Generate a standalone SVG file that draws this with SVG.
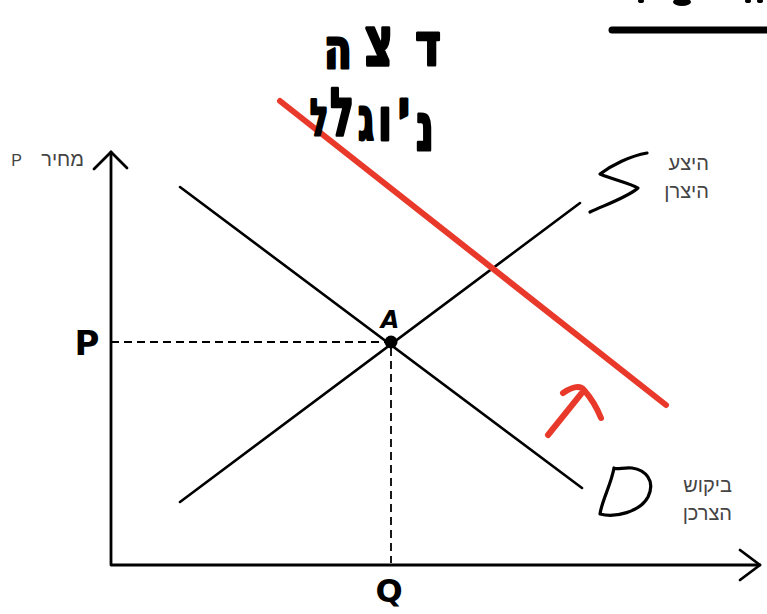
<svg xmlns="http://www.w3.org/2000/svg" width="767" height="614" viewBox="0 0 767 614">
<style>
.ax{stroke:#000;stroke-width:2.8;fill:none;stroke-linecap:round;stroke-linejoin:round}
.ln{stroke:#000;stroke-width:2.6;fill:none;stroke-linecap:round}
.dash{stroke:#000;stroke-width:1.8;fill:none;stroke-dasharray:8 5}
.glyph{stroke:#000;stroke-width:3.2;fill:none;stroke-linecap:round;stroke-linejoin:round}
.lbl{font-family:"Liberation Sans","DejaVu Sans",sans-serif;font-size:20px;fill:#444;text-anchor:end}
.hand{font-family:"DejaVu Sans","Liberation Sans",sans-serif;font-weight:bold;fill:#000;text-anchor:middle}
.hw{font-family:"DejaVu Sans","Liberation Sans",sans-serif;font-weight:bold;fill:#000;stroke:#000;stroke-width:3;stroke-linejoin:round;text-anchor:middle}
.red{stroke:#e8392a;fill:none;stroke-linecap:round;stroke-linejoin:round}
</style>
<rect width="767" height="614" fill="#fff"/>
<g id="axes">
<path class="ax" d="M111,152 L111,565 L760,565"/>
<path class="ax" d="M94,169 L111,152 L127,168"/>
<path class="ax" d="M740,550 L760,565 L740,580"/>
<text class="lbl" x="84" y="166">מחיר</text>
<text class="lbl" x="22" y="166" style="font-size:16px">P</text>
</g>
<g id="connectors">
<path class="ln" d="M180,502 L580,203"/>
<path class="ln" d="M180,187 L582,488"/>
<path class="dash" d="M111,342 L385,342"/>
<path class="dash" d="M391,348 L391,563"/>
</g>
<g id="supply">
<path class="glyph" d="M647,153 C630,156 612,165 600,174 C614,180 630,183 638,188 C628,197 605,205 590,212"/>
<text class="lbl" x="709" y="170">היצע</text>
<text class="lbl" x="709" y="198">היצרן</text>
</g>
<g id="demand">
<path class="glyph" d="M614,468 C611,485 602,500 600,514 C615,518 640,512 648,497 C656,480 645,470 632,468 C624,467 617,470 614,468"/>
<text class="lbl" x="732" y="492">ביקוש</text>
<text class="lbl" x="732" y="520">הצרכן</text>
</g>
<g id="equilibrium">
<circle cx="391" cy="342" r="6.5" fill="#000"/>
<text class="hand" x="390" y="328" style="font-size:24px;font-style:italic">A</text>
</g>
<g id="price">
<text class="hand" x="87" y="355" style="font-size:34px">P</text>
</g>
<g id="quantity">
<text class="hand" x="389" y="602" style="font-size:32px">Q</text>
</g>
<g id="shifted-demand">
<path class="red" stroke-width="6" d="M280,101 L666,405"/>
<path class="red" stroke-width="6" d="M548,435 L581,394 M563,393 C572,387 580,385 584,390 C591,398 597,408 601,418"/>
</g>
<g id="handwriting">
<text class="hw" transform="translate(338,68) scale(0.75,1)" style="font-size:54px">ה</text>
<text class="hw" transform="translate(379,65) scale(0.7,1.1)" style="font-size:62px">צ</text>
<text class="hw" transform="translate(428,65) scale(0.75,1)" style="font-size:58px">ד</text>
<text class="hw" transform="translate(319,135) scale(0.6,1)" style="font-size:50px">ל</text>
<text class="hw" transform="translate(342,135) scale(0.6,1)" style="font-size:66px">ל</text>
<text class="hw" transform="translate(366,140) scale(0.6,1)" style="font-size:60px">ג</text>
<text class="hw" transform="translate(385,140) scale(0.7,1)" style="font-size:58px">ו</text>
<text class="hw" transform="translate(404,126) scale(0.8,1)" style="font-size:50px">י</text>
<text class="hw" transform="translate(425,150) scale(0.6,1)" style="font-size:66px">נ</text>
</g>
<g id="title">
<line x1="612" y1="30" x2="767" y2="30" stroke="#000" stroke-width="7" stroke-linecap="round"/>
<ellipse cx="641" cy="1" rx="3" ry="2" fill="#000"/>
<ellipse cx="682" cy="2" rx="9" ry="4" fill="#000"/>
<ellipse cx="748" cy="1" rx="3" ry="2" fill="#000"/>
<ellipse cx="760" cy="1" rx="3" ry="2" fill="#000"/>
</g>
</svg>
